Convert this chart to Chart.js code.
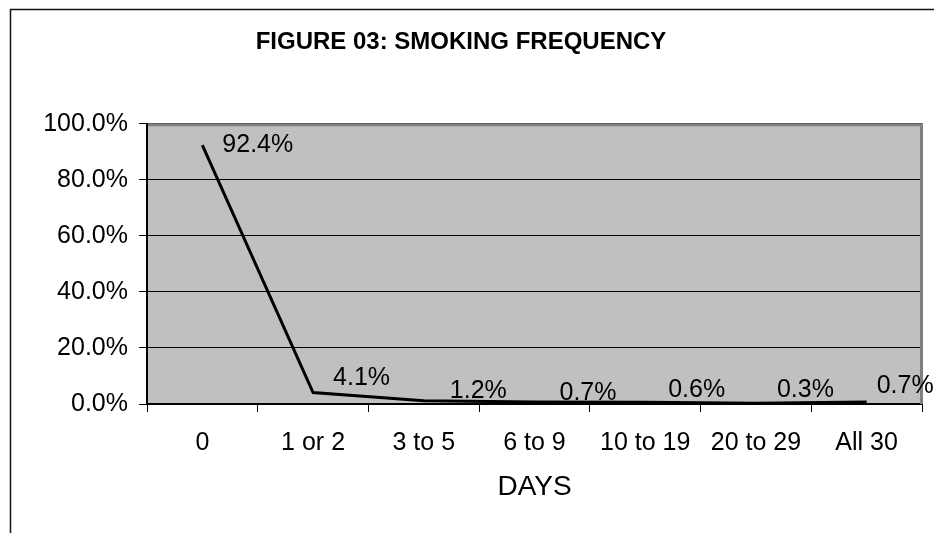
<!DOCTYPE html>
<html>
<head>
<meta charset="utf-8">
<script src="https://cdn.jsdelivr.net/npm/chart.js@4/dist/chart.umd.min.js"></script>
<style>
  body { margin: 0; background: #fff; }
  canvas { display: block; }
</style>
</head>
<body>
<canvas id="smoking-frequency-chart" width="934" height="533"></canvas>
<script>
const dayCategories = ['0', '1 or 2', '3 to 5', '6 to 9', '10 to 19', '20 to 29', 'All 30'];
const smokingPercent = [92.4, 4.1, 1.2, 0.7, 0.6, 0.3, 0.7];
const yTickValues = [0, 20, 40, 60, 80, 100];

// label nudges relative to each point (dx, dy), like the hand-placed excel labels
const labelNudgeX = [20, 20, 26, 25, 23, 21, 10];
const labelNudgeY = [0, -14, -10, -9, -12, -13, -16];

const fontFamily = "'Liberation Sans', Arial, sans-serif";

const framePlugin = {
  id: 'frame',
  beforeDraw(chart) {
    const ctx = chart.ctx;
    const a = chart.chartArea;
    ctx.save();
    ctx.fillStyle = '#fff';
    ctx.fillRect(0, 0, chart.width, chart.height);
    // outer border (left + top only)
    ctx.strokeStyle = '#111';
    ctx.lineWidth = 1.5;
    ctx.beginPath();
    ctx.moveTo(10.5, chart.height);
    ctx.lineTo(10.5, 9.5);
    ctx.lineTo(chart.width, 9.5);
    ctx.stroke();
    // plot area fill
    ctx.fillStyle = '#c0c0c0';
    ctx.fillRect(a.left, a.top, a.right - a.left, a.bottom - a.top);
    ctx.restore();
  },
  beforeDatasetsDraw(chart) {
    const ctx = chart.ctx;
    const a = chart.chartArea;
    ctx.save();
    ctx.strokeStyle = '#808080';
    ctx.lineWidth = 3;
    ctx.beginPath();
    ctx.moveTo(a.left + 1, a.top + 1);
    ctx.lineTo(a.right - 0.5, a.top + 1);
    ctx.lineTo(a.right - 0.5, a.bottom);
    ctx.stroke();
    ctx.restore();
  },
  afterDatasetsDraw(chart) {
    const ctx = chart.ctx;
    const meta = chart.getDatasetMeta(0);
    ctx.save();
    ctx.fillStyle = '#000';
    ctx.font = '25px ' + fontFamily;
    ctx.textAlign = 'left';
    ctx.textBaseline = 'middle';
    meta.data.forEach((pt, i) => {
      const txt = smokingPercent[i].toFixed(1) + '%';
      ctx.fillText(txt, pt.x + labelNudgeX[i], pt.y + labelNudgeY[i]);
    });
    ctx.restore();
  }
};

const canvas = document.getElementById('smoking-frequency-chart');
new Chart(canvas, {
  type: 'line',
  data: {
    labels: dayCategories,
    datasets: [{
      data: smokingPercent,
      borderColor: '#000',
      borderWidth: 3,
      pointRadius: 0,
      tension: 0,
      fill: false
    }]
  },
  options: {
    responsive: false,
    animation: false,
    layout: { padding: { top: 0, left: 0, right: 12, bottom: 0 } },
    plugins: {
      legend: { display: false },
      tooltip: { enabled: false },
      title: {
        display: true,
        text: 'FIGURE 03: SMOKING FREQUENCY',
        color: '#000',
        font: { family: fontFamily, size: 24, weight: 'bold' },
        padding: { top: 28, bottom: 67 }
      }
    },
    scales: {
      x: {
        type: 'category',
        offset: true,
        grid: {
          offset: true,
          drawOnChartArea: false,
          tickLength: 8,
          tickColor: '#000',
          tickWidth: 1
        },
        border: { color: '#000', width: 2 },
        ticks: {
          color: '#000',
          font: { family: fontFamily, size: 25 },
          padding: 16,
          maxRotation: 0,
          autoSkip: false
        },
        title: {
          display: true,
          text: 'DAYS',
          color: '#000',
          font: { family: fontFamily, size: 28 },
          padding: { top: 0, bottom: 29 }
        },
        afterFit(scale) { scale.height = 129; }
      },
      y: {
        min: 0,
        max: 100,
        afterBuildTicks(scale) {
          scale.ticks = yTickValues.map(v => ({ value: v }));
        },
        grid: {
          color: '#000',
          lineWidth: 1,
          tickLength: 8,
          tickColor: '#000'
        },
        border: { color: '#000', width: 2 },
        ticks: {
          color: '#000',
          font: { family: fontFamily, size: 25 },
          padding: 11,
          callback: v => v.toFixed(1) + '%'
        },
        afterFit(scale) { scale.width = 147; }
      }
    }
  },
  plugins: [framePlugin]
});
</script>
</body>
</html>
